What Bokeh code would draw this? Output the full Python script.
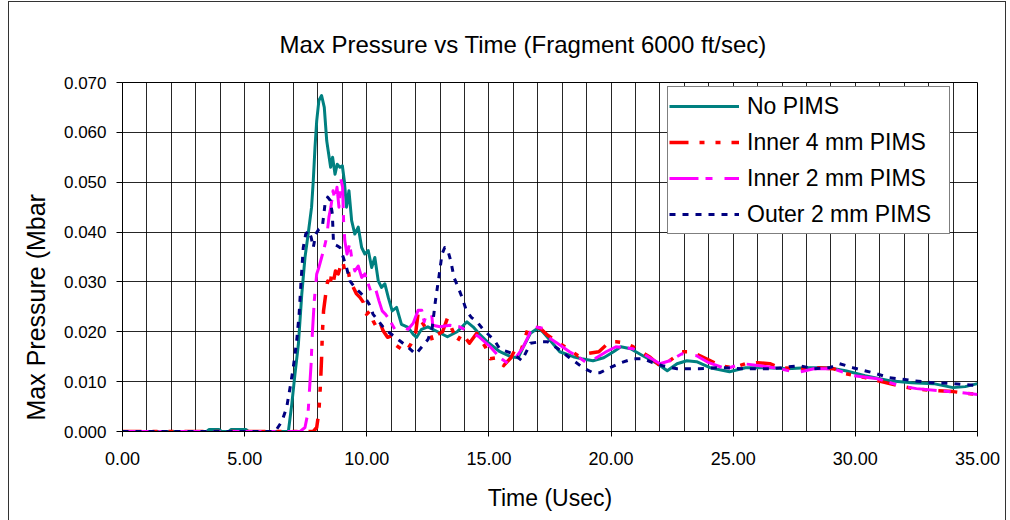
from bokeh.plotting import figure
from bokeh.models import (Range1d, SingleIntervalTicker, NumeralTickFormatter, Title,
                          Legend, LegendItem)
from bokeh.embed import file_html
from bokeh.resources import INLINE

# ---------------- data ----------------
teal_t = [0, 3.45, 3.55, 3.95, 4.05, 4.35, 4.45, 5.05, 5.15, 6.7, 6.79, 6.93, 7.06, 7.2, 7.34, 7.47, 7.6, 7.74,
          7.81, 7.88, 7.95, 8.04, 8.15, 8.26, 8.36, 8.42, 8.52, 8.6, 8.7, 8.79, 8.9, 9.0, 9.08, 9.17,
          9.27, 9.38, 9.51, 9.65, 9.79, 9.92, 10.06, 10.2, 10.33, 10.47, 10.6, 10.74, 10.88, 11.04,
          11.22, 11.42, 11.69, 11.9, 12.04, 12.24, 12.5, 12.9, 13.3, 13.7, 14.1, 14.35, 14.6, 15.0,
          15.45, 15.9, 16.2, 16.4, 16.7, 17.0, 17.2, 17.5, 17.9, 18.45, 18.8, 19.26, 19.7, 20.1,
          20.4, 20.8, 21.3, 21.9, 22.3, 22.7, 23.1, 23.5, 24.05, 24.85, 25.5, 26.4, 27.2, 28.0,
          28.9, 29.6, 30.4, 31.4, 32.3, 33.2, 34.0, 34.5, 35.0]
teal_p = [0, 0, 0.0004, 0.0004, 0, 0, 0.0004, 0.0004, 0, 0, 0, 0.0055, 0.0115, 0.0175, 0.0276, 0.0349, 0.0396, 0.045,
          0.0503, 0.057, 0.0623, 0.0664, 0.0674, 0.065, 0.0583, 0.0563, 0.053, 0.055, 0.0516, 0.0536, 0.053, 0.0533, 0.0503, 0.045,
          0.0483, 0.0423, 0.0396, 0.041, 0.0369, 0.0356, 0.0363, 0.0329, 0.0349, 0.0302, 0.0289, 0.0296, 0.0269, 0.0242,
          0.0249, 0.0215, 0.0209, 0.0195, 0.0189, 0.0205, 0.021, 0.020, 0.019, 0.020, 0.022, 0.021, 0.0196, 0.0177,
          0.016, 0.015, 0.0148, 0.0169, 0.0197, 0.0207, 0.020, 0.0183, 0.016, 0.015, 0.0146, 0.0142, 0.0148, 0.016,
          0.017, 0.0166, 0.0152, 0.0136, 0.0122, 0.0136, 0.0142, 0.014, 0.0128, 0.012, 0.0128, 0.0128, 0.0126, 0.0128,
          0.0128, 0.0122, 0.0112, 0.0102, 0.0098, 0.0096, 0.0088, 0.009, 0.0096]

red_t = [0, 7.81, 7.95, 8.04, 8.11, 8.15, 8.18, 8.23, 8.32, 8.4, 8.48, 8.56, 8.64, 8.72, 8.83, 8.93, 9.01,
         9.1, 9.22, 9.31, 9.45, 9.58, 9.72, 9.86, 9.99, 10.13, 10.26, 10.4, 10.54, 10.67, 10.85, 11.01,
         11.15, 11.31, 11.6, 11.8, 12.0, 12.1, 12.25, 12.45, 12.6, 12.7, 12.9, 13.1, 13.3, 13.45, 13.7,
         13.9, 14.2, 14.5, 14.85, 15.05, 15.3, 15.6, 15.9, 16.1, 16.3, 16.6, 16.9, 17.1, 17.4, 17.8, 18.2,
         18.65, 19.1, 19.5, 19.95, 20.2, 20.5, 20.9, 21.6, 22.0, 22.4, 22.9, 23.3, 23.9, 24.45, 25.0, 25.5,
         26.0, 26.5, 26.9, 27.7, 28.4, 29.1, 29.6, 30.4, 31.4, 32.35, 33.2, 34.0, 35.0]
red_p = [0, 0, 0.0008, 0.004, 0.010, 0.0148, 0.0195, 0.0242, 0.0276, 0.0302, 0.0289, 0.0316, 0.0302, 0.0322, 0.0316, 0.0332, 0.0342,
         0.0322, 0.0329, 0.0302, 0.0289, 0.0276, 0.0269, 0.0259, 0.0235, 0.0242, 0.0222, 0.0209, 0.0219, 0.0202, 0.0189, 0.0192,
         0.0175, 0.0169, 0.016, 0.0175, 0.0197, 0.0237, 0.022, 0.0205, 0.0197, 0.018, 0.0195, 0.020, 0.0227, 0.021, 0.018,
         0.0197, 0.0177, 0.0197, 0.017, 0.0146, 0.0148, 0.0132, 0.0148, 0.0167, 0.016, 0.0207, 0.021, 0.0207, 0.0193, 0.018, 0.0167,
         0.0152, 0.0157, 0.016, 0.018, 0.018, 0.0178, 0.017, 0.0149, 0.0132, 0.0142, 0.016, 0.016, 0.0146, 0.0132, 0.0128, 0.0136,
         0.0138, 0.0136, 0.0128, 0.0126, 0.0128, 0.0126, 0.0116, 0.0108, 0.0096, 0.0086, 0.0082, 0.008, 0.0074]

mag_t = [0, 7.27, 7.47, 7.6, 7.72, 7.77, 7.85, 7.95, 8.04, 8.15, 8.26, 8.36, 8.45, 8.53, 8.62, 8.7, 8.78, 8.86,
         8.94, 9.01, 9.05, 9.1, 9.19, 9.3, 9.4, 9.51, 9.65, 9.79, 9.92, 10.06, 10.2, 10.36, 10.5, 10.63, 10.77,
         10.95, 11.15, 11.42, 11.69, 11.9, 12.1, 12.25, 12.35, 12.45, 12.65, 12.7, 13.0, 13.4, 13.8, 14.2, 14.6,
         15.05, 15.45, 15.8, 16.1, 16.4, 16.7, 16.9, 17.2, 17.4, 17.8, 18.3, 18.7, 19.05, 19.4, 19.8, 20.2, 20.9,
         21.45, 22.0, 22.4, 22.9, 23.5, 24.0, 24.7, 25.4, 26.1, 26.9, 27.6, 28.3, 29.1, 29.9, 30.9, 31.8, 32.5,
         33.4, 34.3, 35.0]
mag_p = [0, 0, 0.0008, 0.004, 0.0135, 0.0195, 0.0262, 0.0316, 0.0329, 0.0349, 0.0369, 0.039, 0.043, 0.045, 0.0483, 0.0463, 0.049, 0.045,
         0.0506, 0.049, 0.0423, 0.0383, 0.0356, 0.0376, 0.0342, 0.0322, 0.0332, 0.0309, 0.0316, 0.0296, 0.0276, 0.0286, 0.0262, 0.0242, 0.0235,
         0.0222, 0.0205, 0.0209, 0.0205, 0.0217, 0.0243, 0.0243, 0.022, 0.0237, 0.0237, 0.0213, 0.021, 0.0213, 0.021, 0.020, 0.019,
         0.017, 0.0148, 0.0136, 0.0148, 0.0169, 0.020, 0.021, 0.0207, 0.019, 0.0177, 0.016, 0.0148, 0.0136, 0.0148, 0.016, 0.017, 0.0166,
         0.0152, 0.0136, 0.0142, 0.0156, 0.0152, 0.0138, 0.0126, 0.0136, 0.0132, 0.0126, 0.0118, 0.0126, 0.0126, 0.0112, 0.0106, 0.0092, 0.0086,
         0.0082, 0.0078, 0.0074]

navy_t = [0, 6.25, 6.52, 6.72, 6.86, 6.99, 7.13, 7.23, 7.31, 7.4, 7.5, 7.61, 7.72, 7.81, 7.91, 8.04, 8.18, 8.29,
          8.4, 8.51, 8.59, 8.64, 8.77, 8.9, 9.04, 9.17, 9.31, 9.51, 9.72, 9.92, 10.09, 10.26, 10.47, 10.74, 11.01,
          11.35, 11.69, 12.0, 12.24, 12.51, 12.68, 12.81, 12.95, 13.08, 13.19, 13.3, 13.44, 13.57, 13.74, 13.9,
          14.08, 14.28, 14.53, 14.76, 15.03, 15.24, 15.45, 16.0, 16.35, 16.7, 17.1, 17.4, 17.8, 18.3, 18.85, 19.25,
          19.55, 19.95, 20.4, 20.9, 21.3, 21.7, 22.1, 22.7, 23.6, 24.45, 25.4, 26.6, 27.7, 28.3, 28.95, 29.35,
          29.9, 30.7, 31.4, 32.35, 33.15, 34.0, 35.0]
navy_p = [0, 0, 0.002, 0.0048, 0.0088, 0.0128, 0.0182, 0.0235, 0.0302, 0.0369, 0.0396, 0.0403, 0.039, 0.0369, 0.0396, 0.0406, 0.041, 0.0456,
          0.047, 0.0463, 0.0436, 0.0376, 0.0373, 0.0369, 0.0349, 0.0329, 0.0302, 0.0289, 0.0279, 0.0269, 0.0256, 0.0235, 0.0222, 0.0205, 0.0195,
          0.0182, 0.0169, 0.0155, 0.0169, 0.0185, 0.0209, 0.0262, 0.0309, 0.0356, 0.0369, 0.0366, 0.0342, 0.0309, 0.0289, 0.0269,
          0.0242, 0.0229, 0.0219, 0.0205, 0.0192, 0.0182, 0.0165, 0.0156, 0.0142, 0.0177, 0.018, 0.018, 0.0167, 0.0148, 0.0128, 0.0118,
          0.0118, 0.0128, 0.0138, 0.0146, 0.0146, 0.0138, 0.0132, 0.0126, 0.0126, 0.0128, 0.0126, 0.0126, 0.0132, 0.0126, 0.0128, 0.0136,
          0.0128, 0.0118, 0.0108, 0.0102, 0.0098, 0.0096, 0.0092]

series_names = ["No PIMS", "Inner 4 mm PIMS", "Inner 2 mm PIMS", "Outer 2 mm PIMS"]
title_text = "Max Pressure vs Time (Fragment 6000 ft/sec)"
x_label = "Time (Usec)"
y_label = "Max Pressure (Mbar"

FONT = "Liberation Sans"

# ---------------- figure ----------------
p = figure(width=996, height=518, output_backend="svg", toolbar_location=None,
           x_range=Range1d(0, 35), y_range=Range1d(0, 0.07),
           min_border_left=112, min_border_right=28, min_border_top=80, min_border_bottom=89)
p.margin = (2, 0, 0, 9)
p.background_fill_color = "white"
p.border_fill_color = "white"
p.outline_line_color = "black"
p.outline_line_width = 1
p.styles = {"outline": "1px solid #333333"}

# title (top)
p.title.text = title_text
p.title.text_font = FONT
p.title.text_font_size = "24px"
p.title.text_font_style = "normal"
p.title.text_color = "black"
p.title.align = "left"
p.title.offset = 157
p.title.vertical_align = "bottom"
p.title.standoff = 50

xt = SingleIntervalTicker(interval=5, num_minor_ticks=0)
yt = SingleIntervalTicker(interval=0.01, num_minor_ticks=0)
p.xaxis.ticker = xt
p.yaxis.ticker = yt
p.xgrid.ticker = SingleIntervalTicker(interval=1, num_minor_ticks=0)
p.ygrid.ticker = yt
for g in (p.xgrid, p.ygrid):
    g.grid_line_color = "black"
    g.grid_line_width = 1
    g.grid_line_alpha = 0.85

p.xaxis.formatter = NumeralTickFormatter(format="0.00")
p.yaxis.formatter = NumeralTickFormatter(format="0.000")
for ax in (p.xaxis, p.yaxis):
    ax.axis_line_color = "black"
    ax.major_tick_line_color = "black"
    ax.minor_tick_line_color = None
    ax.major_tick_in = 0
    ax.major_label_text_font = FONT
    ax.major_label_text_color = "black"
p.xaxis.major_tick_out = 5
p.yaxis.major_tick_out = 6
p.xaxis.major_label_text_font_size = "18px"
p.yaxis.major_label_text_font_size = "17px"
p.xaxis.major_label_standoff = 15
p.yaxis.major_label_standoff = 10

p.xaxis.axis_label = x_label
p.xaxis.axis_label_text_font = FONT
p.xaxis.axis_label_text_font_size = "23px"
p.xaxis.axis_label_text_font_style = "normal"
p.xaxis.axis_label_text_color = "black"
p.xaxis.axis_label_standoff = 17

# y label as a left title (allows shifting along the axis)
ytitle = Title(text=y_label, text_font=FONT, text_font_size="25px", text_font_style="normal",
               text_color="black", align="left", offset=11, vertical_align="bottom", standoff=21)
p.add_layout(ytitle, "left")

# ---------------- series ----------------
styles = [
    dict(color="#008080", line_width=3, line_dash="solid"),
    dict(color="#FF0000", line_width=3.5, line_dash="19 11 5 11 5 11"),
    dict(color="#FF00FF", line_width=3, line_dash="29 7 7 12"),
    dict(color="#000080", line_width=3, line_dash="6 7"),
]
data = [(teal_t, teal_p), (red_t, red_p), (mag_t, mag_p), (navy_t, navy_p)]
items = []
for name, (t, v), st in zip(series_names, data, styles):
    r = p.line(t, v, line_color=st["color"], line_width=st["line_width"], line_dash=st["line_dash"],
               line_join="round")
    items.append(LegendItem(label=name, renderers=[r]))

legend = Legend(items=items, location=(545, 197))
legend.margin = 0
legend.padding = 1
legend.spacing = 0
legend.glyph_width = 70
legend.glyph_height = 36
legend.label_height = 36
legend.label_width = 201
legend.label_standoff = 8
legend.label_text_font = FONT
legend.label_text_font_size = "23px"
legend.label_text_color = "black"
legend.border_line_color = "black"
legend.border_line_width = 1
legend.background_fill_color = "white"
legend.background_fill_alpha = 1
p.add_layout(legend, "center")

open("out.html", "w").write(file_html(p, INLINE))
